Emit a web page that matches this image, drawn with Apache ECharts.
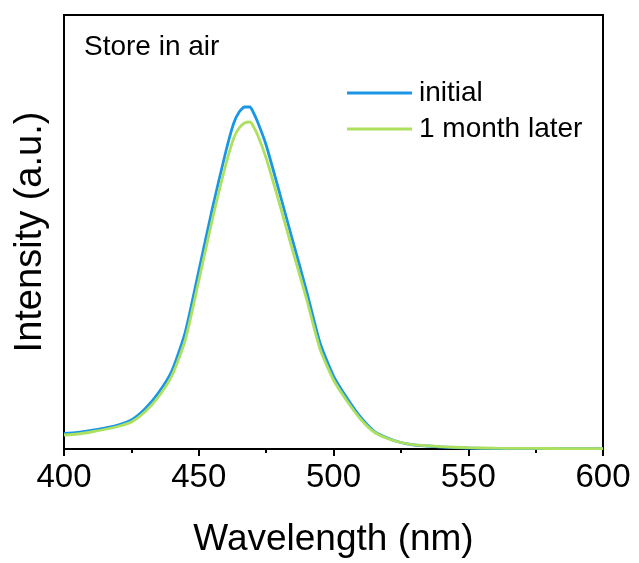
<!DOCTYPE html>
<html>
<head>
<meta charset="utf-8">
<script src="https://cdn.jsdelivr.net/npm/echarts@6/dist/echarts.min.js"></script>
<style>html,body{margin:0;padding:0;background:#fff;}#c{width:639px;height:563px;}</style>
</head>
<body>
<div id="c"></div>
<script>
const wavelengths = [400,405,410,415,420,425,430,435,440,445,450,455,460,463,465,467,469,470,472,475,480,485,490,495,500,505,510,515,520,525,530,535,540,550,560,570,580,590,600];
const initialValues = [15.5,16.5,18.5,21,24,29,40,56,78,117,178,240,297,326,337,342,342,338,326,304,256,207,158,106,73,51,32,18,11,6.5,4,3,2,1,0.5,0.3,0.3,0.3,0.3];
const laterValues = [14,15,17,19.5,22.5,27,37,52,73,109,168,229,284,311,321,326,327,324,313,291,245,197,150,100,69,48,30,17,10.5,6.5,4.2,3.2,2.3,1.3,0.8,0.6,0.5,0.4,0.4];
const seriesNames = ['initial','1 month later'];
const xTicks = [400,450,500,550,600];

const pair = (vals) => wavelengths.map((w,i)=>[w, vals[i]]);
const chart = echarts.init(document.getElementById('c'), null, {renderer:'canvas'});
const font = '"Liberation Sans", Arial, sans-serif';
chart.setOption({
  animation:false,
  backgroundColor:'#fff',
  grid:{left:64, right:36, top:15, bottom:114, show:true, borderColor:'#000', borderWidth:2, backgroundColor:'transparent'},
  title:{text:'Store in air', left:79, top:28, textStyle:{fontFamily:font, fontSize:28, fontWeight:'normal', color:'#000'}},
  legend:{
    orient:'vertical', left:342, top:72, itemWidth:65, itemHeight:3, itemGap:4, icon:'rect',
    textStyle:{fontFamily:font, fontSize:28, color:'#000', lineHeight:32, padding:[0,0,0,2]},
    data:seriesNames
  },
  xAxis:{
    type:'value', min:xTicks[0], max:xTicks[xTicks.length-1], interval:50,
    name:'Wavelength (nm)', nameLocation:'middle', nameGap:72,
    nameTextStyle:{fontFamily:font, fontSize:37, color:'#000'},
    axisLine:{lineStyle:{color:'#000', width:2}},
    axisTick:{show:true, inside:false, length:7, lineStyle:{color:'#000', width:2}},
    minorTick:{show:true, splitNumber:2, length:4, lineStyle:{color:'#000', width:2}},
    axisLabel:{fontFamily:font, fontSize:33, color:'#000', margin:12},
    splitLine:{show:false}
  },
  yAxis:{
    type:'value', min:0, max:434,
    name:'Intensity (a.u.)', nameLocation:'middle', nameGap:14,
    nameTextStyle:{fontFamily:font, fontSize:38, color:'#000'},
    axisLine:{show:true, lineStyle:{color:'#000', width:2}},
    axisTick:{show:false}, axisLabel:{show:false}, splitLine:{show:false}
  },
  series:[
    {name:seriesNames[0], type:'line', data:pair(initialValues), showSymbol:false, symbol:'none',
     smooth:0.2,
     lineStyle:{color:'#1A96E6', width:2.8}, itemStyle:{color:'#1A96E6'}},
    {name:seriesNames[1], type:'line', data:pair(laterValues), showSymbol:false, symbol:'none',
     smooth:0.2,
     lineStyle:{color:'#ADE05E', width:2.8}, itemStyle:{color:'#ADE05E'}}
  ]
});
</script>
</body>
</html>
